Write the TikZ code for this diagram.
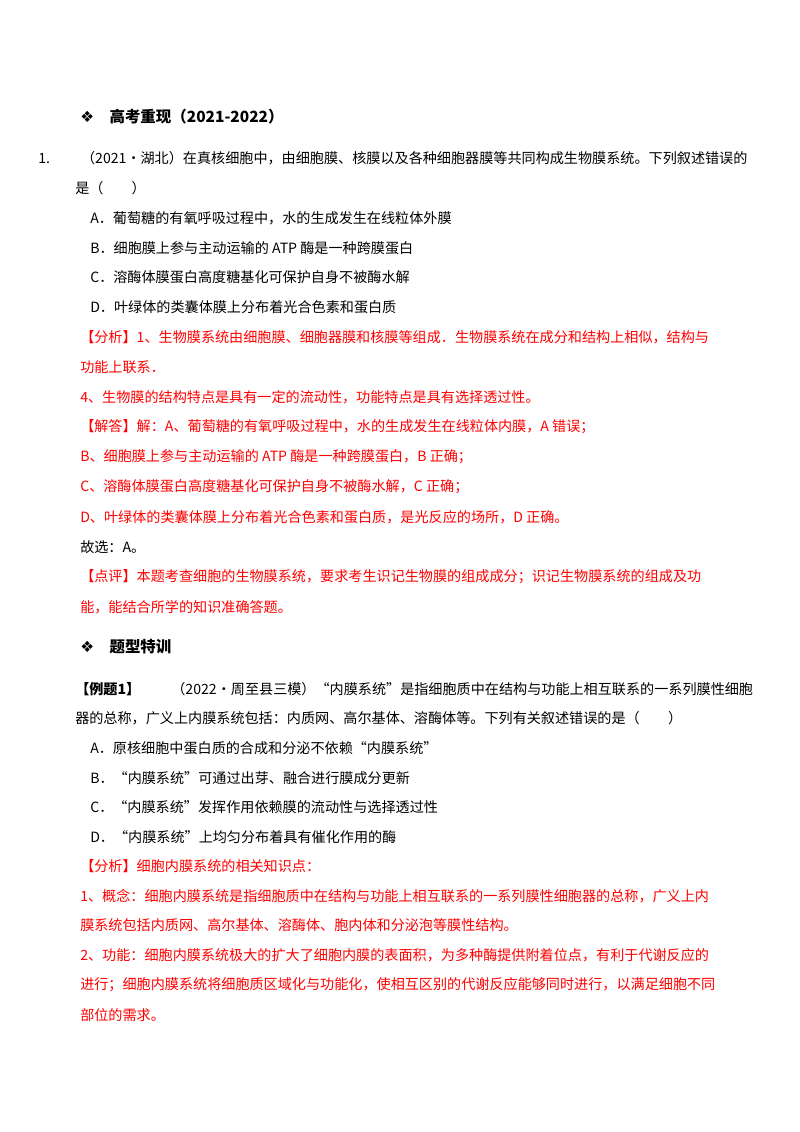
\documentclass[tikz,border=0pt]{standalone}
\usepackage{fontspec}
\setmainfont{Liberation Serif}
\newfontfamily\cjk{Noto Sans CJK SC}
\newfontfamily\sym{DejaVu Sans}
\tikzset{
  txt/.style={anchor=west, inner sep=0pt, font=\cjk\fontsize{10.5}{12}\selectfont},
  ans/.style={txt, text=red},
  head/.style={anchor=west, inner sep=0pt, font=\cjk\bfseries\fontsize{11.5}{13}\selectfont}
}
\begin{document}
\begin{tikzpicture}[x=0.744pt, y=-0.744pt]
\useasboundingbox (0,0) rectangle (800,1132);
% part one
\node[head] (h1) at (80,117) {{\sym ❖}\quad 高考重现（\textit{2021-2022}）};
\node[txt] (q1) at (38,158) {1.\hspace{2.2em}（2021•湖北）在真核细胞中，由细胞膜、核膜以及各种细胞器膜等共同构成生物膜系统。下列叙述错误的};
\node[txt] (q1b) at (75,188) {是（\hspace{2em}）};
\node[txt] (oA) at (90,218) {A．葡萄糖的有氧呼吸过程中，水的生成发生在线粒体外膜};
\node[txt] (oB) at (90,248) {B．细胞膜上参与主动运输的 ATP 酶是一种跨膜蛋白};
\node[txt] (oC) at (90,277) {C．溶酶体膜蛋白高度糖基化可保护自身不被酶水解};
\node[txt] (oD) at (90,307) {D．叶绿体的类囊体膜上分布着光合色素和蛋白质};
\node[ans] (a1) at (80,337) {【分析】1、生物膜系统由细胞膜、细胞器膜和核膜等组成．生物膜系统在成分和结构上相似，结构与};
\node[ans] (a2) at (80,367) {功能上联系．};
\node[ans] (a3) at (80,397) {4、生物膜的结构特点是具有一定的流动性，功能特点是具有选择透过性。};
\node[ans] (a4) at (80,427) {【解答】解：A、葡萄糖的有氧呼吸过程中，水的生成发生在线粒体内膜，A 错误；};
\node[ans] (a5) at (80,457) {B、细胞膜上参与主动运输的 ATP 酶是一种跨膜蛋白，B 正确；};
\node[ans] (a6) at (80,487) {C、溶酶体膜蛋白高度糖基化可保护自身不被酶水解，C 正确；};
\node[ans] (a7) at (80,517) {D、叶绿体的类囊体膜上分布着光合色素和蛋白质，是光反应的场所，D 正确。};
\node[txt] (a8) at (80,547) {故选：A。};
\node[ans] (a9) at (80,577) {【点评】本题考查细胞的生物膜系统，要求考生识记生物膜的组成成分；识记生物膜系统的组成及功};
\node[ans] (a10) at (80,607) {能，能结合所学的知识准确答题。};
% part two
\node[head] (h2) at (80,647) {{\sym ❖}\quad 题型特训};
\node[txt] (e1) at (75,689) {\textbf{【例题1】}\hspace{2.2em}（2022•周至县三模）“内膜系统”是指细胞质中在结构与功能上相互联系的一系列膜性细胞};
\node[txt] (e2) at (75,718) {器的总称，广义上内膜系统包括：内质网、高尔基体、溶酶体等。下列有关叙述错误的是（\hspace{2em}）};
\node[txt] (eA) at (90,748) {A．原核细胞中蛋白质的合成和分泌不依赖“内膜系统”};
\node[txt] (eB) at (90,778) {B．“内膜系统”可通过出芽、融合进行膜成分更新};
\node[txt] (eC) at (90,807) {C．“内膜系统”发挥作用依赖膜的流动性与选择透过性};
\node[txt] (eD) at (90,837) {D．“内膜系统”上均匀分布着具有催化作用的酶};
\node[ans] (b1) at (80,866) {【分析】细胞内膜系统的相关知识点：};
\node[ans] (b2) at (80,896) {1、概念：细胞内膜系统是指细胞质中在结构与功能上相互联系的一系列膜性细胞器的总称，广义上内};
\node[ans] (b3) at (80,925) {膜系统包括内质网、高尔基体、溶酶体、胞内体和分泌泡等膜性结构。};
\node[ans] (b4) at (80,955) {2、功能：细胞内膜系统极大的扩大了细胞内膜的表面积，为多种酶提供附着位点，有利于代谢反应的};
\node[ans] (b5) at (80,985) {进行；细胞内膜系统将细胞质区域化与功能化，使相互区别的代谢反应能够同时进行，以满足细胞不同};
\node[ans] (b6) at (80,1015) {部位的需求。};
\end{tikzpicture}
\end{document}
